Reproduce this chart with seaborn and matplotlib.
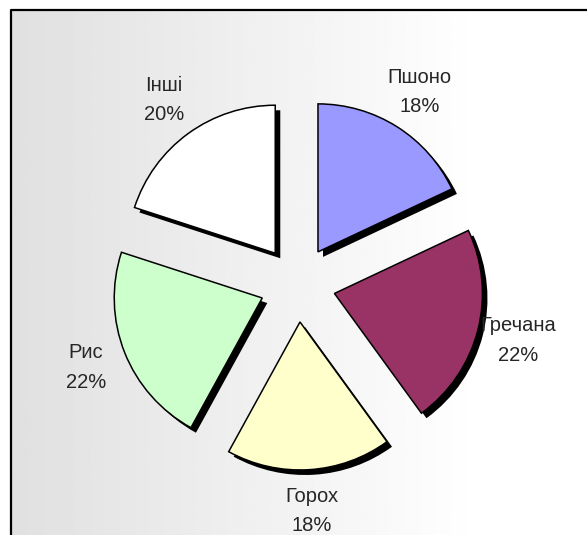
import numpy as np
import matplotlib.pyplot as plt
import seaborn as sns

# Дані діаграми
categories = ['Пшоно', 'Гречана', 'Горох', 'Рис', 'Інші']
shares = [18, 22, 18, 22, 20]
slice_colors = ['#9999ff', '#993366', '#ffffcc', '#ccffcc', '#ffffff']

sns.set_theme(style="white")
plt.rcParams['font.family'] = ['Liberation Sans', 'DejaVu Sans']

# піксель -> координати даних (радіус пирога = 1)
cx_px, cy_px, r_px = 297.6, 284.0, 148.0
def px(x):
    return (x - cx_px) / r_px
def py(y):
    return (cy_px - y) / r_px

fig = plt.figure(figsize=(5.87, 5.35), dpi=100)
ax = fig.add_axes([0, 0, 1, 1])

# Фон: сірий зліва, білий справа
grad = np.clip(np.linspace(224, 262, 256), 0, 255) / 255
grad = np.tile(grad, (2, 1))
ax.imshow(grad, cmap='gray', vmin=0, vmax=1, aspect='auto',
          extent=(px(11), px(587), py(535), py(10)), zorder=0)
ax.plot([px(11), px(11), px(587)], [py(535), py(10), py(10)],
        color='black', lw=1.6, zorder=1)

explode = [0.257] * len(shares)

# тінь
ax.pie(shares, startangle=90, counterclock=False, explode=explode,
       colors=['black'] * len(shares), center=(0.034, -0.034),
       wedgeprops=dict(linewidth=0, zorder=2))

labels = [f'{c}\n{s}%' for c, s in zip(categories, shares)]
wedges, texts = ax.pie(shares, labels=labels, startangle=90, counterclock=False,
                       explode=explode, colors=slice_colors, labeldistance=1.28,
                       wedgeprops=dict(edgecolor='black', linewidth=1.1, zorder=3),
                       textprops=dict(fontsize=14.5, color='#262626', linespacing=1.7))
for t in texts:
    t.set_ha('center')
    t.set_va('center')

ax.set_xlim(px(0), px(587))
ax.set_ylim(py(535), py(0))
ax.set_aspect('auto')
ax.axis('off')

fig.savefig('out.png', dpi=100)
